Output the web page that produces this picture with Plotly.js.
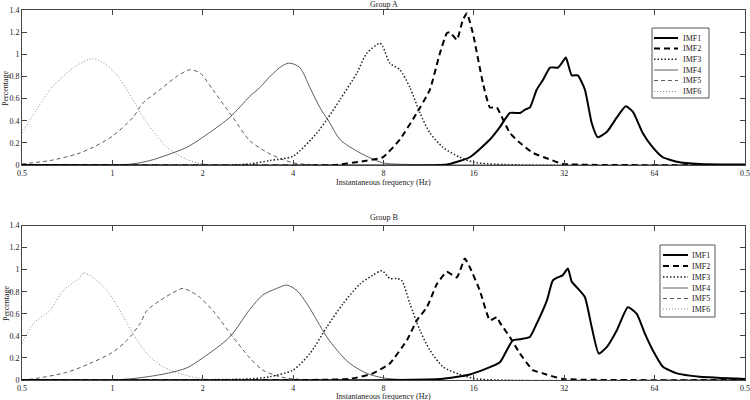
<!DOCTYPE html>
<html><head><meta charset="utf-8">
<script src="https://cdn.plot.ly/plotly-3.0.1.min.js"></script>
<style>html,body{margin:0;padding:0;background:#fff}#chart{width:750px;height:400px}</style>
</head><body><div id="chart"></div>
<script>
const seriesNames = ['IMF1', 'IMF2', 'IMF3', 'IMF4', 'IMF5', 'IMF6'];
const panelTitles = ['Group A', 'Group B'];
const xTitle = 'Instantaneous frequency (Hz)';
const yTitle = 'Percentage';
const tickVals = [0.5, 1, 2, 4, 8, 16, 32, 64, 128];
const tickText = ['0.5', '1', '2', '4', '8', '16', '32', '64', '0.5'];

// ---- Group A ----
const imf1A_f = [0.5, 12.3, 13.3, 15.5, 18.1, 19.5, 21.1, 22.8, 23.7, 24.6, 25.9, 27.2, 28.7, 30.5, 31.4, 32.4, 33.9, 35.5, 37.5, 39.5, 41.4, 44.4, 47.9, 51.3, 54.2, 58.4, 63.1, 68.2, 75.9, 90.5, 128];
const imf1A_y = [0, 0, 0.01, 0.07, 0.23, 0.34, 0.47, 0.47, 0.5, 0.52, 0.68, 0.77, 0.88, 0.88, 0.92, 0.97, 0.81, 0.81, 0.68, 0.38, 0.25, 0.3, 0.43, 0.53, 0.48, 0.29, 0.16, 0.07, 0.03, 0.01, 0.005];
const imf2A_f = [0.5, 5.5, 6.68, 7.96, 9.07, 10.33, 11.42, 12.33, 13.0, 13.31, 14.05, 14.7, 15.17, 15.88, 17.15, 18.09, 19.08, 19.53, 21.08, 22.77, 25.15, 28.66, 31.65, 128];
const imf2A_y = [0, 0, 0.03, 0.07, 0.23, 0.47, 0.68, 1.01, 1.19, 1.2, 1.13, 1.31, 1.37, 1.19, 0.74, 0.52, 0.52, 0.47, 0.29, 0.2, 0.11, 0.05, 0.01, 0];
const imf3A_f = [0.5, 2.46, 2.87, 3.35, 4.0, 4.8, 5.18, 5.73, 6.52, 7.04, 7.78, 7.96, 8.4, 9.07, 9.8, 10.58, 11.42, 12.62, 14.37, 16.37, 128];
const imf3A_y = [0, 0, 0.01, 0.04, 0.08, 0.29, 0.41, 0.59, 0.83, 1.01, 1.1, 1.07, 0.92, 0.86, 0.7, 0.47, 0.29, 0.16, 0.07, 0.02, 0];
const imf4A_f = [0.5, 1.0, 1.171, 1.334, 1.52, 1.77, 2.0, 2.46, 2.87, 3.1, 3.35, 3.7, 3.9, 4.21, 4.55, 4.91, 5.3, 5.73, 6.68, 7.96, 9.8, 16, 128];
const imf4A_y = [0, 0, 0.01, 0.04, 0.09, 0.16, 0.25, 0.43, 0.62, 0.7, 0.8, 0.9, 0.92, 0.88, 0.7, 0.52, 0.38, 0.23, 0.11, 0.02, 0.005, 0, 0];
const imf5A_f = [0.5, 0.62, 0.762, 0.862, 1.0, 1.171, 1.265, 1.44, 1.64, 1.81, 1.96, 2.16, 2.52, 2.87, 3.35, 4.0, 5, 128];
const imf5A_y = [0.01, 0.04, 0.1, 0.16, 0.26, 0.43, 0.56, 0.68, 0.8, 0.86, 0.83, 0.68, 0.43, 0.22, 0.1, 0.02, 0, 0];
const imf6A_f = [0.5, 0.62, 0.685, 0.762, 0.862, 1.0, 1.171, 1.265, 1.52, 1.77, 2.0, 2.5, 128];
const imf6A_y = [0.29, 0.68, 0.8, 0.9, 0.96, 0.86, 0.59, 0.43, 0.16, 0.05, 0.01, 0, 0];

// ---- Group B ----
const imf1B_f = [0.5, 12.33, 15.52, 19.53, 20.6, 21.58, 22.77, 24.58, 25.9, 28.0, 29.3, 30.46, 31.65, 32.9, 33.9, 35.5, 37.5, 39.5, 41.7, 44.4, 47.9, 52.1, 55.8, 59.4, 63.1, 68.2, 75.9, 90.5, 128];
const imf1B_y = [0, 0.01, 0.05, 0.16, 0.27, 0.36, 0.37, 0.39, 0.51, 0.72, 0.9, 0.93, 0.95, 1.01, 0.89, 0.83, 0.75, 0.48, 0.24, 0.3, 0.45, 0.66, 0.6, 0.42, 0.27, 0.12, 0.06, 0.03, 0.01];
const imf2B_f = [0.5, 6.18, 7.38, 8.4, 9.57, 10.33, 11.16, 12.05, 13.0, 14.05, 14.93, 15.52, 16.75, 18.09, 19.08, 19.53, 21.08, 22.77, 25.15, 27.15, 31.65, 128];
const imf2B_y = [0, 0.01, 0.06, 0.15, 0.36, 0.54, 0.66, 0.87, 0.98, 0.93, 1.1, 1.02, 0.81, 0.54, 0.57, 0.52, 0.39, 0.24, 0.09, 0.06, 0.01, 0];
const imf3B_f = [0.5, 2.87, 3.35, 4.0, 4.55, 5.18, 5.86, 6.68, 7.38, 7.9, 8.4, 8.87, 9.21, 9.8, 10.58, 11.42, 12.62, 14.37, 16.37, 128];
const imf3B_y = [0, 0.01, 0.03, 0.09, 0.24, 0.48, 0.69, 0.87, 0.95, 0.99, 0.92, 0.92, 0.9, 0.69, 0.45, 0.27, 0.12, 0.05, 0.01, 0];
const imf4B_f = [0.5, 1.0, 1.235, 1.52, 1.77, 2.0, 2.46, 2.87, 3.17, 3.53, 3.81, 4.12, 4.45, 4.8, 5.18, 5.6, 6.18, 7.04, 7.96, 9.8, 128];
const imf4B_y = [0, 0, 0.02, 0.06, 0.11, 0.2, 0.39, 0.64, 0.77, 0.83, 0.86, 0.81, 0.69, 0.54, 0.39, 0.27, 0.15, 0.06, 0.02, 0, 0];
const imf5B_f = [0.5, 0.544, 0.706, 0.842, 1.0, 1.118, 1.235, 1.304, 1.44, 1.64, 1.718, 1.91, 2.16, 2.52, 2.87, 3.17, 3.61, 4.0, 5, 128];
const imf5B_y = [0, 0.01, 0.07, 0.15, 0.25, 0.36, 0.51, 0.63, 0.72, 0.81, 0.83, 0.77, 0.63, 0.39, 0.2, 0.09, 0.03, 0.01, 0, 0];
const imf6B_f = [0.5, 0.544, 0.62, 0.685, 0.78, 0.798, 0.862, 0.96, 1.06, 1.171, 1.304, 1.474, 1.718, 2.0, 2.5, 128];
const imf6B_y = [0.33, 0.51, 0.63, 0.81, 0.93, 0.97, 0.93, 0.81, 0.63, 0.42, 0.24, 0.12, 0.05, 0.01, 0, 0];

const groupA = [[imf1A_f, imf1A_y], [imf2A_f, imf2A_y], [imf3A_f, imf3A_y], [imf4A_f, imf4A_y], [imf5A_f, imf5A_y], [imf6A_f, imf6A_y]];
const groupB = [[imf1B_f, imf1B_y], [imf2B_f, imf2B_y], [imf3B_f, imf3B_y], [imf4B_f, imf4B_y], [imf5B_f, imf5B_y], [imf6B_f, imf6B_y]];

const styles = [
  {color: '#000', width: 2, dash: 'solid'},
  {color: '#000', width: 2, dash: '6px,4px'},
  {color: '#222', width: 1.5, dash: '1.5px,2px'},
  {color: '#333', width: 0.8, dash: 'solid'},
  {color: '#333', width: 0.8, dash: '4px,3px'},
  {color: '#888', width: 1, dash: '1px,2px'}
];
const smoothing = [0.5, 0.4, 0.7, 0.8, 0.8, 0.8];

const FONT = 'Liberation Serif, Times New Roman, serif';
const W = 750, H = 400, ML = 22, MR = 5, MT = 10, MB = 20;
const PW = W - ML - MR, PH = H - MT - MB;
const px2x = p => (p - ML) / PW;
const py2y = p => (H - MB - p) / PH;

const traces = [];
[groupA, groupB].forEach((grp, gi) => {
  for (let i = grp.length - 1; i >= 0; i--) {
    traces.push({
      type: 'scatter', mode: 'lines', name: seriesNames[i],
      x: grp[i][0], y: grp[i][1],
      xaxis: gi === 0 ? 'x' : 'x2', yaxis: gi === 0 ? 'y' : 'y2',
      line: Object.assign({shape: 'spline', smoothing: smoothing[i]}, styles[i]),
      showlegend: false, hoverinfo: 'skip'
    });
  }
});

function xax(anchor) {
  return {
    type: 'log', range: [Math.log10(0.5), Math.log10(128)], anchor: anchor,
    tickmode: 'array', tickvals: tickVals, ticktext: tickText,
    ticks: 'inside', ticklen: 5, tickcolor: '#444', mirror: 'ticks',
    showline: true, linecolor: '#444', linewidth: 1, showgrid: false, zeroline: false,
    tickfont: {family: FONT, size: 8, color: '#222'}
  };
}
function yax(domain, anchor) {
  return {
    domain: domain, range: [0, 1.4], dtick: 0.2, tick0: 0, anchor: anchor,
    ticks: 'inside', ticklen: 5, tickcolor: '#444', mirror: 'ticks',
    showline: true, linecolor: '#444', linewidth: 1, showgrid: false, zeroline: false,
    tickfont: {family: FONT, size: 8, color: '#222'}
  };
}

const topDomain = [py2y(165), 1];
const botDomain = [0, py2y(225.5)];

const annotations = [];
const shapes = [];
const txt = (text, x, y, opts) => Object.assign({
  text: text, x: x, y: y, xref: 'paper', yref: 'paper', showarrow: false,
  font: {family: FONT, size: 8, color: '#222'}, xanchor: 'center', yanchor: 'middle'
}, opts || {});

// panel titles and axis titles
annotations.push(txt(panelTitles[0], 0.5, py2y(4.5)));
annotations.push(txt(panelTitles[1], 0.5, py2y(217.5)));
annotations.push(txt(xTitle, 0.5, py2y(182.5)));
annotations.push(txt(xTitle, 0.5, py2y(396.5)));
annotations.push(txt(yTitle, px2x(6), py2y(88), {textangle: -90}));
annotations.push(txt(yTitle, px2x(6), py2y(303), {textangle: -90}));

// custom legends
const legends = [
  {box: [652, 28, 709, 98], lx: [654, 678], tx: 681, ys: [38, 48.5, 59.3, 70, 80.5, 91.5]},
  {box: [660, 245, 715, 317], lx: [663, 688], tx: 690, ys: [255, 266, 277, 288, 298.5, 309]}
];
legends.forEach(lg => {
  shapes.push({type: 'rect', xref: 'paper', yref: 'paper',
    x0: px2x(lg.box[0]), x1: px2x(lg.box[2]), y0: py2y(lg.box[3]), y1: py2y(lg.box[1]),
    line: {color: '#555', width: 1}, fillcolor: '#fff', layer: 'above'});
  seriesNames.forEach((nm, i) => {
    shapes.push({type: 'line', xref: 'paper', yref: 'paper',
      x0: px2x(lg.lx[0]), x1: px2x(lg.lx[1]), y0: py2y(lg.ys[i]), y1: py2y(lg.ys[i]),
      line: {color: styles[i].color, width: styles[i].width, dash: styles[i].dash}, layer: 'above'});
    annotations.push(txt(nm, px2x(lg.tx), py2y(lg.ys[i]), {xanchor: 'left'}));
  });
});

const layout = {
  width: W, height: H, margin: {l: ML, r: MR, t: MT, b: MB, pad: 0},
  paper_bgcolor: '#fff', plot_bgcolor: '#fff', showlegend: false,
  font: {family: FONT, size: 8, color: '#222'},
  xaxis: xax('y'), yaxis: yax(topDomain, 'x'),
  xaxis2: xax('y2'), yaxis2: yax(botDomain, 'x2'),
  annotations: annotations, shapes: shapes
};

Plotly.newPlot('chart', traces, layout, {displayModeBar: false, staticPlot: true});
</script></body></html>
